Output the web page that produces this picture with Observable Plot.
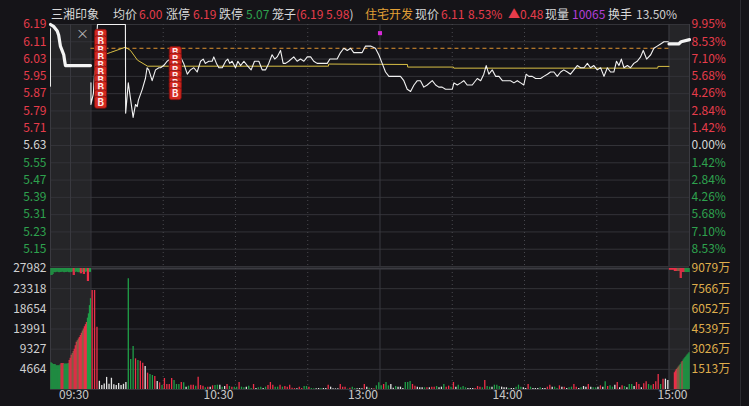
<!DOCTYPE html>
<html><head><meta charset="utf-8">
<script src="https://cdn.jsdelivr.net/npm/d3@7"></script>
<script src="https://cdn.jsdelivr.net/npm/@observablehq/plot@0.6"></script>
<style>
html,body{margin:0;padding:0;background:#151418;}
#wrap{position:relative;width:749px;height:406px;overflow:hidden;background:#151418;font-family:"Noto Sans CJK SC","Noto Sans",sans-serif;}
#wrap svg{position:absolute;left:0;top:0;}
.hd{position:absolute;top:5px;font-size:12px;line-height:18px;white-space:pre;}
</style></head><body><div id="wrap"></div>
<script>
// ---------- data ----------
const prevClose = 5.63;
const priceTicks = [6.19, 6.11, 6.03, 5.95, 5.87, 5.79, 5.71, 5.63, 5.55, 5.47, 5.39, 5.31, 5.23, 5.15];
const volTicks = [4664, 9327, 13991, 18654, 23318, 27982];
const amountTicks = [1513, 3026, 4539, 6052, 7566, 9079];
const timeTickT = [0, 60, 120, 180, 248.5];
const timeTickLabel = ["09:30", "10:30", "13:00", "14:00", "15:00"];

// minutes after 09:30 (lunch break removed) and price
const priceT = [0,0,1,2.7,14.3,14.4,15.5,17.5,18.5,19.2,19.7,21.3,22.6,23.3,24.0,25.4,26.8,28.2,28.9,30.2,31.6,33.0,37.2,38.5,40.0,41.3,42.7,44.1,45.5,46.6,47.5,48.9,50.3,51.0,52.1,53.1,54.5,55.9,56.8,57.6,58.6,60.0,61.0,62.1,63.5,64.9,66.5,67.9,69.7,71.1,72.5,73.8,75.2,76.3,77.3,78.7,79.8,80.8,82.1,84.2,85.6,87.0,88.4,89.8,91.2,92.5,93.9,96.0,98.1,99.2,102.2,103.6,105.0,106.4,107.8,109.1,110.5,112.6,114.0,116.1,118.1,119.5,120.9,122.3,123.7,125.7,128.5,129.9,131.3,132.7,134.1,135.5,136.8,138.2,139.6,141.7,143.1,144.4,145.8,147.2,148.6,150.0,150.7,152.1,153.5,154.8,156.2,158.3,160.4,161.8,163.1,164.1,165.2,166.6,168.0,169.4,170.8,174.2,175.6,177.0,178.4,179.7,180.7,181.8,183.2,184.6,186.7,188.0,189.5,190.8,192.2,193.6,195.0,196.3,197.8,199.1,200.5,201.9,203.3,204.7,206.1,207.4,208.8,210.2,211.6,213.0,214.4,215.7,217.1,218.2,219.2,220.2,221.3,222.7,224.0,225.4,226.8,228.2,229.3,230.7,232.4,233.7,235.1,236.5,237.9,239.7];
const priceV = [5.92,5.82,5.87,6.19,6.19,5.78,5.92,5.76,5.82,5.81,5.84,5.89,5.94,5.99,5.98,5.93,5.98,5.99,5.99,6.00,6.02,6.03,6.04,6.01,5.96,5.98,5.99,5.97,6.02,6.03,6.01,6.02,6.02,6.04,6.01,5.99,5.99,6.02,6.03,6.01,6.02,5.99,6.02,6.00,6.02,6.00,5.98,6.02,6.02,5.98,5.98,6.01,6.05,6.03,6.04,6.07,6.01,6.01,6.02,6.04,6.02,6.03,6.02,6.04,6.04,6.02,6.01,6.01,6.01,6.03,6.03,6.06,6.08,6.07,6.08,6.06,6.06,6.06,6.09,6.09,6.08,6.05,6.01,5.97,5.95,5.95,5.95,5.93,5.89,5.88,5.91,5.93,5.93,5.90,5.91,5.93,5.91,5.90,5.90,5.89,5.89,5.89,5.92,5.91,5.92,5.93,5.91,5.91,5.94,5.93,5.96,6.00,5.96,5.98,5.95,5.95,5.93,5.93,5.92,5.93,5.92,5.91,5.96,5.95,5.95,5.94,5.94,5.95,5.96,5.97,5.97,5.95,5.97,5.98,5.97,5.96,5.98,6.00,5.99,5.99,6.01,5.99,6.00,5.98,5.99,5.95,5.99,5.97,5.97,6.02,6.00,6.03,5.99,6.00,5.99,6.01,6.02,6.04,6.07,6.03,6.05,6.08,6.09,6.10,6.11,6.11];

const avgT = [2.7, 8, 14.3, 16.4, 19.3, 23.5, 98.6, 98.7, 131.4, 131.5, 150.5, 150.6, 235.3, 235.4, 240];
const avgV = [6.04, 6.06, 6.085, 6.07, 6.025, 5.997, 5.997, 6.007, 6.005, 5.993, 5.993, 5.988, 5.988, 5.996, 5.996];

// opening call auction (09:15-09:30) and closing auction matched price
const openAucT = [-16.8,-15.4,-14.0,-13.4,-12.7,-12.0,-11.3,-10.9,-10.6,-9.9,-0.2];
const openAucV = [6.19,6.18,6.16,6.14,6.09,6.07,6.05,6.02,6.00,6.00,6.00];
const closeAucT = [240, 244, 245, 248.5];
const closeAucV = [6.10, 6.10, 6.11, 6.12];
const cageLevel = 6.08;

// buy signals
const bT = [4,4,4,4,4,4,4,4,4,4,35,35,35,35,35,35,35,35];
const bP = [6.14,6.11,6.07,6.04,6.00,5.97,5.93,5.90,5.86,5.83,6.06,6.03,6.00,5.98,5.95,5.92,5.90,5.87];
const markT = [120], markP = [6.15];

// per-minute volume (hands), minutes 0..239, direction r/g/w
const volValues = [22900,22900,14400,1900,900,1300,2800,1200,2600,1100,900,1400,900,1200,1600,25600,
6940,9950,7090,6710,6550,6090,5320,3780,3470,3240,
3010,1850,1540,930,2540,1160,1160,2540,2080,1160,
1160,1620,1540,540,770,1000,1000,770,2850,930,
770,390,540,540,850,930,1000,1000,540,690,
1160,690,540,540,540,1620,540,390,540,770,
230,1160,230,390,540,230,540,930,1620,1000,
540,540,1000,540,690,540,1000,310,230,150,
540,230,690,690,540,230,150,150,230,230,
230,230,1000,540,150,150,150,1160,540,540,
80,310,540,230,150,230,150,1160,540,310,
150,150,850,1540,850,1160,1620,850,
1160,310,690,540,540,230,1620,1620,1850,1160,
770,540,390,390,390,390,390,540,540,690,
390,540,1160,540,770,540,1620,540,1000,390,
690,390,230,230,230,230,690,540,390,2080,
690,540,540,1000,1000,690,540,390,390,230,
230,230,540,1000,540,390,230,1160,540,230,
230,230,390,230,230,540,1000,540,540,230,
850,540,540,230,390,540,1160,540,230,390,
690,540,1160,540,390,390,540,850,540,1770,
690,850,540,1000,1620,390,850,690,390,1160,
1160,690,1620,1160,390,1310,1770,1160,850,1160,
1770,3470,1160,2390,2390,2080];
const volDir = "rrr" + "wwwwwwwwwwww" + "g" +
"ggrgrrwrgg" + "rwrgrrrrgg" + "grgwgrrgrr" + "rgrwrggwgw" + "rgrggrggwg" + "grwggwgrrr" + "ggrgrrrrrw" + "rrggrggwwg" + "wwrwwwwrrr" + "grggwwwrwg" + "wrgggrgg" +
"wwgwwwgggr" + "rwwwgrwrrg" + "wwgrrgrwgg" + "ggwwwrrrgr" + "ggwgggwwwg" + "wwgggwwrgw" + "wwgwwrrwgg" + "rwrwggrrwg" + "wwrwggwrwg" + "rggwrwrgwg" + "gwrrwrrggr" + "rrgrww";

// auction volumes (matched from bottom, unmatched from top)
const openAucVol = [6200,6000,5800,5800,5800,5500,5500,5500,5500,5700,6000,6000,6000,5900,5900,5900,5900,6000,6700,7200,7900,8300,8800,9300,10100,10900,11300,11700,12000,12500,13000,13500,14000,14500,15000,15500,16500,17500,19400,21000];
const openAucDir = "gggggggggg" + "rrr" + "ggggg" + "rrr" + "bb" + "rrr" + "bb" + "rrr" + "bb" + "rrr" + "gggg";
const openAucUnmatched = [1600,1600,1400,900,1000,900,800,900,1000,900,900,800,900,1000,900,900,800,900,1000,900,900,800,1620,1620,900,800,900,1000,900,1200,1200,900,1400,1400,900,800,3000,3000,900,900];
const openAucUnDir = "ggg" + "ggggggggggggggggggg" + "rr" + "ggggg" + "rr" + "g" + "rr" + "gg" + "rr" + "gg";
const closeAucVol = [0,0,0,0,0,3900,4300,4600,4900,5200,5500,5800,6200,6500,6800,7100,7400,7700,8000,8200,8500];
const closeAucDir = "rrrrr" + "rrr" + "bbb" + "gg" + "r" + "ggggggg";
const closeAucUnmatched = [400,400,400,400,400,700,700,700,700,700,700,2300,2300,900,900,900,900,900,900,900,900];
const closeAucUnDir = "rrrrr" + "rrrbbb" + "rr" + "rrr" + "ggggg";

// ---------- styling ----------
const RED = "#e63c4b", GREEN = "#2ea24e", NEUTRAL = "#d6d6d6", GOLD = "#dfae4c";
const barColor = {r: "#ee3049", g: "#1f9f47", w: "#e4e4e4", b: "#8c6448"};
const BG_SHADE = "#252528", GRID = "#333338", VGRID = "#48484e";
const xDomain = [-16.8, 248.5];
const openWin = [-16.8, 0], closeWin = [240, 248.5];
const windows = [{x1: openWin[0], x2: openWin[1]}, {x1: closeWin[0], x2: closeWin[1]}];
const dottedT = [30, 60, 90, 150, 180, 210];
const solidT = [-16.8, -8.5, 0, 120, 240, 248.5];
const font = '"Noto Sans CJK SC","Noto Sans",sans-serif';

const price = priceT.map((t, i) => ({t, p: priceV[i]}));
const avg = avgT.map((t, i) => ({t, p: avgV[i]}));
const openAuc = openAucT.map((t, i) => ({t, p: openAucV[i]}));
const closeAuc = closeAucT.map((t, i) => ({t, p: closeAucV[i]}));
const bSignals = bT.map((t, i) => ({t, p: bP[i]}));
const marks2 = markT.map((t, i) => ({t, p: markP[i]}));
const vol = volValues.map((v, m) => ({t: m + 0.5, v, c: barColor[volDir[m]]}));
const spread = (arr, dir, win) => arr.map((v, i) => ({t: win[0] + (i + 0.5) * (win[1] - win[0]) / arr.length, v, c: barColor[dir[i]]}));
const aucBottom = spread(openAucVol, openAucDir, openWin).concat(spread(closeAucVol, closeAucDir, closeWin));
const aucTop = spread(openAucUnmatched, openAucUnDir, openWin).concat(spread(closeAucUnmatched, closeAucUnDir, closeWin));
const volMax = volTicks[volTicks.length - 1];

const roundBox = {draw(ctx, size) {
  const h = Math.sqrt(size / Math.PI), r = 2.2;
  ctx.moveTo(-h + r, -h); ctx.lineTo(h - r, -h); ctx.arcTo(h, -h, h, -h + r, r);
  ctx.lineTo(h, h - r); ctx.arcTo(h, h, h - r, h, r);
  ctx.lineTo(-h + r, h); ctx.arcTo(-h, h, -h, h - r, r);
  ctx.lineTo(-h, -h + r); ctx.arcTo(-h, -h, -h + r, -h, r); ctx.closePath();
}};

const common = {width: 749, height: 406, marginLeft: 50, marginRight: 60,
  color: {type: "identity"},
  style: {background: "transparent", fontFamily: font, fontSize: "12px", overflow: "visible"}};

const pricePlot = Plot.plot({...common, marginTop: 24, marginBottom: 140,
  x: {domain: xDomain, axis: null},
  y: {domain: [5.07, 6.19], axis: null},
  marks: [
    Plot.rect(windows, {x1: "x1", x2: "x2", fill: BG_SHADE}),
    Plot.ruleY(priceTicks.concat([5.07]), {stroke: GRID}),
    Plot.ruleX(dottedT, {stroke: VGRID, strokeDasharray: "1,3"}),
    Plot.ruleX(solidT, {stroke: "#3a3a40"}),
    Plot.ruleY([cageLevel], {x1: 0, x2: 240, stroke: "#e09430", strokeDasharray: "4,3"}),
    Plot.ruleX([openWin[0]], {y1: 5.90, y2: 6.17, stroke: "#e8e8e8", strokeWidth: 1}),
    Plot.line(avg, {x: "t", y: "p", stroke: "#d8bf45", strokeWidth: 1}),
    Plot.line(openAuc, {x: "t", y: "p", stroke: "#f4f4f4", strokeWidth: 3.2, strokeLinecap: "round"}),
    Plot.line(closeAuc, {x: "t", y: "p", stroke: "#f4f4f4", strokeWidth: 3.2}),
    Plot.line(price, {x: "t", y: "p", stroke: "#f2f2f2", strokeWidth: 1.1}),
    ...bSignals.flatMap(d => [
      Plot.dot([d], {x: "t", y: "p", symbol: roundBox, r: 6, fill: "#d3281f", stroke: "#7c1010", strokeWidth: 0.8}),
      Plot.text([d], {x: "t", y: "p", text: () => "B", fill: "#ffe8e8", fontSize: 10, fontWeight: "bold", dy: 0.5})
    ]),
    Plot.dot(marks2, {x: "t", y: "p", symbol: "square", r: 2.3, fill: "#d62ad6"}),
    Plot.text(priceTicks, {y: d => d, text: d => d.toFixed(2), frameAnchor: "left", dx: -4, textAnchor: "end", fontSize: 12,
      fill: d => d > prevClose + 1e-9 ? RED : d < prevClose - 1e-9 ? GREEN : NEUTRAL}),
    Plot.text(priceTicks, {y: d => d, text: d => (Math.abs(d - prevClose) / prevClose * 100).toFixed(2) + "%", frameAnchor: "right", dx: 2, textAnchor: "start", fontSize: 12,
      fill: d => d > prevClose + 1e-9 ? RED : d < prevClose - 1e-9 ? GREEN : NEUTRAL})
  ]
});

const volPlot = Plot.plot({...common, marginTop: 268, marginBottom: 17,
  x: {domain: xDomain, axis: null},
  y: {domain: [0, volMax], axis: null},
  marks: [
    Plot.rect(windows, {x1: "x1", x2: "x2", fill: BG_SHADE}),
    Plot.ruleY([0].concat(volTicks.slice(0, -1)), {stroke: GRID}),
    Plot.ruleY([volMax], {stroke: "#3c3c42", strokeWidth: 2}),
    Plot.ruleX(dottedT, {stroke: VGRID, strokeDasharray: "1,3"}),
    Plot.ruleX(solidT, {stroke: "#3a3a40"}),
    Plot.ruleX(aucBottom, {x: "t", y1: 0, y2: "v", stroke: "c", strokeWidth: 1.2}),
    Plot.ruleX(aucTop, {x: "t", y1: volMax, y2: d => volMax - d.v, stroke: "c", strokeWidth: 1.2}),
    Plot.ruleX(vol, {x: "t", y1: 0, y2: "v", stroke: "c", strokeWidth: 1.3}),
    Plot.text(volTicks, {y: d => d, text: d => String(d), frameAnchor: "left", dx: -4, textAnchor: "end", fontSize: 12, fill: "#d0d0d0"}),
    Plot.text(volTicks, {y: d => d, text: (d, i) => amountTicks[i] + "万", frameAnchor: "right", dx: 2, textAnchor: "start", fontSize: 12, fill: GOLD}),
    Plot.text(timeTickT, {x: d => d, text: (d, i) => timeTickLabel[i], frameAnchor: "bottom", dy: 9, dx: -2, textAnchor: "end", fontSize: 12, fill: "#c8c8c8"})
  ]
});

const wrap = document.getElementById("wrap");
wrap.appendChild(volPlot);
wrap.appendChild(pricePlot);

// header line
const W = "#d8d8d8", PURPLE = "#b23fd9", HGOLD = "#e3a035";
const header = [
  [51, [["三湘印象", W]]],
  [113, [["均价", W]]], [139, [["6.00", RED]]], [166, [["涨停", W]]], [193, [["6.19", RED]]],
  [219, [["跌停", W]]], [246, [["5.07", GREEN]]],
  [272, [["笼子", W], ["(6.19 5.98", RED], [")", W]]],
  [365, [["住宅开发", HGOLD]]], [415, [["现价", W]]], [441, [["6.11", RED]]], [468, [["8.53%", RED]]],
  [508, [["▲0.48", RED]]], [545, [["现量", W]]], [572, [["10065", PURPLE]]], [608, [["换手", W]]], [636, [["13.50%", "#cfcfcf"]]]
];
for (const [x, parts] of header) {
  const s = document.createElement("span");
  s.className = "hd"; s.style.left = x + "px";
  for (const [t, c] of parts) {
    const p = document.createElement("span");
    p.style.color = c; p.textContent = t;
    s.appendChild(p);
  }
  wrap.appendChild(s);
}
const close = document.createElement("span");
close.textContent = "×";
Object.assign(close.style, {position: "absolute", left: "76px", top: "25px", fontSize: "13px", color: "#b8b8b8", lineHeight: "16px"});
wrap.appendChild(close);
const edge = document.createElement("div");
Object.assign(edge.style, {position: "absolute", left: "740px", top: "0", width: "1px", height: "406px", background: "#2c2c31"});
wrap.appendChild(edge);
</script></body></html>
